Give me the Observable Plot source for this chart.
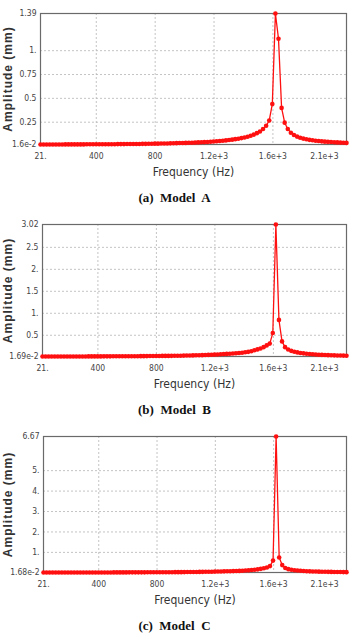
<!DOCTYPE html>
<html>
<head>
<meta charset="utf-8">
<script src="https://cdn.jsdelivr.net/npm/d3@7"></script>
<script src="https://cdn.jsdelivr.net/npm/@observablehq/plot@0.6"></script>
<style>
  html, body { margin: 0; padding: 0; background: #fff; }
  #wrap { width: 349px; }
  .cap { height: 24px; line-height: 24px; text-align: center; white-space: pre;
         font-family: "Liberation Serif", "Times New Roman", serif; font-weight: bold; font-size: 13px; color: #111; }
  svg { display: block; }
  svg text { font-stretch: condensed; }
</style>
</head>
<body>
<div id="wrap"></div>
<script>
const freqs = [
  21,42,63,84,105,126,147,168,189,210,
  231,252,273,294,315,336,357,378,399,420,
  441,462,483,504,525,546,567,588,609,630,
  651,672,693,714,735,756,777,798,819,840,
  861,882,903,924,945,966,987,1008,1029,1050,
  1071,1092,1113,1134,1155,1176,1197,1218,1239,1260,
  1281,1302,1323,1344,1365,1386,1407,1428,1449,1470,
  1491,1512,1533,1554,1575,1596,1617,1638,1659,1680,
  1701,1722,1743,1764,1785,1806,1827,1848,1869,1890,
  1911,1932,1953,1974,1995,2016,2037,2058,2079,2100
];

const ampA = [
  0.016,0.016,0.016,0.016,0.016,0.016,0.016,0.016,0.017,0.017,
  0.017,0.017,0.017,0.017,0.017,0.018,0.018,0.018,0.018,0.018,
  0.018,0.019,0.019,0.019,0.019,0.020,0.020,0.020,0.021,0.021,
  0.021,0.022,0.022,0.023,0.023,0.024,0.024,0.025,0.025,0.026,
  0.027,0.027,0.028,0.029,0.030,0.031,0.032,0.033,0.034,0.035,
  0.036,0.038,0.039,0.041,0.043,0.045,0.047,0.050,0.053,0.056,
  0.059,0.063,0.067,0.072,0.077,0.083,0.090,0.098,0.108,0.120,
  0.135,0.153,0.178,0.212,0.268,0.440,1.390,1.125,0.400,0.245,
  0.178,0.140,0.116,0.099,0.087,0.078,0.071,0.065,0.060,0.056,
  0.052,0.049,0.046,0.044,0.042,0.040,0.038,0.036,0.035,0.033
];

const ampB = [
  0.0169,0.0169,0.017,0.017,0.017,0.017,0.017,0.017,0.017,0.017,
  0.018,0.018,0.018,0.018,0.018,0.019,0.019,0.019,0.019,0.019,
  0.020,0.020,0.020,0.021,0.021,0.021,0.022,0.022,0.023,0.023,
  0.024,0.024,0.025,0.025,0.026,0.027,0.027,0.028,0.029,0.030,
  0.030,0.031,0.032,0.033,0.034,0.035,0.037,0.038,0.040,0.042,
  0.044,0.046,0.048,0.051,0.054,0.057,0.060,0.064,0.068,0.072,
  0.076,0.080,0.085,0.090,0.096,0.103,0.112,0.123,0.138,0.158,
  0.178,0.200,0.230,0.270,0.310,0.550,3.020,0.850,0.360,0.230,
  0.175,0.145,0.125,0.110,0.098,0.088,0.080,0.073,0.067,0.062,
  0.058,0.054,0.051,0.048,0.045,0.043,0.041,0.039,0.037,0.035
];

const ampC = [
  0.0168,0.0168,0.017,0.017,0.017,0.017,0.017,0.017,0.017,0.017,
  0.018,0.018,0.018,0.018,0.018,0.019,0.019,0.019,0.019,0.019,
  0.020,0.020,0.020,0.021,0.021,0.021,0.022,0.022,0.023,0.023,
  0.024,0.024,0.025,0.025,0.026,0.027,0.027,0.028,0.029,0.030,
  0.030,0.031,0.032,0.033,0.034,0.035,0.037,0.038,0.040,0.042,
  0.044,0.046,0.048,0.051,0.054,0.057,0.060,0.064,0.068,0.072,
  0.076,0.080,0.085,0.090,0.096,0.103,0.112,0.123,0.138,0.155,
  0.170,0.195,0.225,0.265,0.330,0.600,6.670,0.750,0.380,0.240,
  0.180,0.148,0.127,0.111,0.099,0.089,0.081,0.074,0.068,0.063,
  0.058,0.054,0.051,0.048,0.045,0.043,0.041,0.039,0.037,0.035
];

const xTicks = [21, 400, 800, 1200, 1600, 1950];
const xTickLabels = ["21.", "400", "800", "1.2e+3", "1.6e+3", "2.1e+3"];
const xGrid = [400, 800, 1200, 1600];

const yTicksA = [0.016, 0.25, 0.5, 0.75, 1, 1.39];
const yLabelsA = ["1.6e-2", "0.25", "0.5", "0.75", "1.", "1.39"];
const yTicksB = [0.0169, 0.5, 1, 1.5, 2, 2.5, 3.02];
const yLabelsB = ["1.69e-2", "0.5", "1.", "1.5", "2.", "2.5", "3.02"];
const yTicksC = [0.0168, 1, 2, 3, 4, 5, 6.67];
const yLabelsC = ["1.68e-2", "1.", "2.", "3.", "4.", "5.", "6.67"];

const captions = ["(a)  Model  A", "(b)  Model  B", "(c)  Model  C"];
const xTitle = "Frequency (Hz)";
const yTitle = "Amplitude (mm)";

const layout = [
  {amps: ampA, yTicks: yTicksA, yLabels: yLabelsA, ml: 40, mt: 13, ph: 131},
  {amps: ampB, yTicks: yTicksB, yLabels: yLabelsB, ml: 42, mt: 14, ph: 132},
  {amps: ampC, yTicks: yTicksC, yLabels: yLabelsC, ml: 43, mt: 14, ph: 136}
];

const narrow = "'DejaVu Sans Condensed', 'DejaVu Sans', sans-serif";
const wrap = document.getElementById("wrap");
const xLabelMap = new Map(xTicks.map((t, i) => [t, xTickLabels[i]]));

layout.forEach((p, idx) => {
  const data = freqs.map((f, i) => ({f, a: p.amps[i]}));
  const yMap = new Map(p.yTicks.map((t, i) => [t, p.yLabels[i]]));
  const yGrid = p.yTicks.slice(1, -1);
  const mb = 42;
  const svg = Plot.plot({
    width: 349,
    height: p.mt + p.ph + mb,
    marginTop: p.mt,
    marginBottom: mb,
    marginLeft: p.ml,
    marginRight: 3,
    style: {fontFamily: narrow, fontSize: "8.5px", color: "#444", background: "#fff"},
    x: {domain: [21, 2100]},
    y: {domain: [p.yTicks[0], p.yTicks[p.yTicks.length - 1]]},
    marks: [
      Plot.ruleY(yGrid, {stroke: "#b5b5b5", strokeDasharray: "2,2", strokeWidth: 0.8}),
      Plot.ruleX(xGrid, {stroke: "#b5b5b5", strokeDasharray: "2,2", strokeWidth: 0.8}),
      Plot.frame({stroke: "#6a6a6a", strokeWidth: 1.2}),
      Plot.axisX({ticks: xTicks, tickFormat: d => xLabelMap.get(d), tickSize: 0, tickPadding: 8, label: null, fill: "#444"}),
      Plot.axisY({ticks: p.yTicks, tickFormat: d => yMap.get(d), tickSize: 0, tickPadding: 4, label: null, fill: "#444"}),
      Plot.line(data, {x: "f", y: "a", stroke: "#ff1010", strokeWidth: 1.3}),
      Plot.dot(data, {x: "f", y: "a", r: 2.3, fill: "#ff1010", stroke: "none"}),
      Plot.text([xTitle], {text: d => d, frameAnchor: "bottom", dy: 31, fontSize: 12, fontFamily: narrow, fill: "#333"}),
      Plot.text([yTitle], {text: d => d, frameAnchor: "left", textAnchor: "middle", dx: 8 - p.ml, rotate: -90, fontSize: 12, fontWeight: "bold", fontFamily: "'Liberation Sans', Arial, sans-serif", fill: "#333"})
    ]
  });
  d3.select(svg).selectAll("text").filter(function () { return this.textContent === yTitle; })
    .style("letter-spacing", "1px").style("font-stretch", "normal");
  wrap.appendChild(svg);
  const cap = document.createElement("div");
  cap.className = "cap";
  cap.textContent = captions[idx];
  wrap.appendChild(cap);
});
</script>
</body>
</html>
